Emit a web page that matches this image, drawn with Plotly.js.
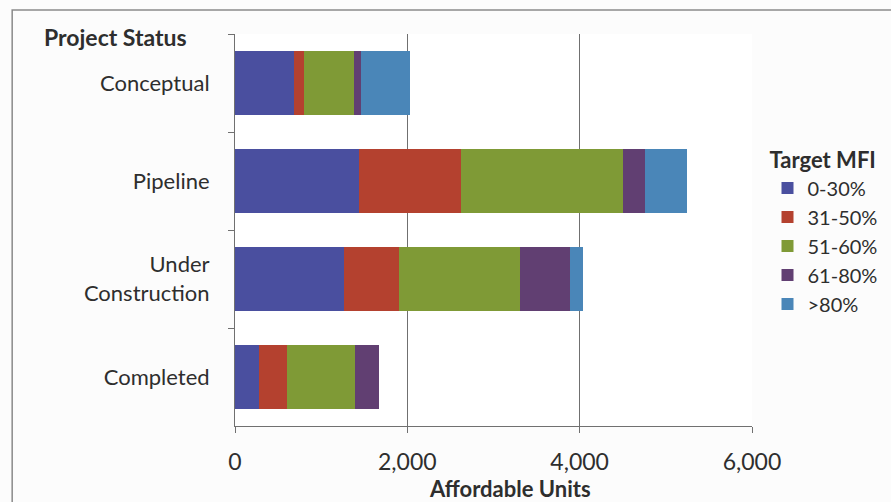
<!DOCTYPE html>
<html>
<head>
<meta charset="utf-8">
<script src="https://cdn.plot.ly/plotly-3.0.1.min.js"></script>
<style>
  html, body { margin: 0; padding: 0; background: #fcfcfc; }
  #chart { width: 891px; height: 502px; }
</style>
</head>
<body>
<div id="chart"></div>
<script>
// Project status categories (top to bottom)
const statuses = ["Conceptual", "Pipeline", "Under<br>Construction", "Completed"];

// Target MFI bands
const bands = ["0-30%", "31-50%", "51-60%", "61-80%", ">80%"];
const bandColors = ["#4a4f9f", "#b4412f", "#7f9a36", "#613f72", "#4a86b8"];

// Affordable units per status for each band
const units0to30  = [690, 1436, 1270, 284];
const units31to50 = [116, 1192, 638, 314];
const units51to60 = [572, 1871, 1404, 792];
const units61to80 = [86, 263, 580, 283];
const unitsOver80 = [572, 484, 147, 0];

const seriesValues = [units0to30, units31to50, units51to60, units61to80, unitsOver80];

const xTicks = [0, 2000, 4000, 6000];
const xTickText = ["0", "2,000", "4,000", "6,000"];

const font = "Lato, 'Open Sans', sans-serif";
const textColor = "#2e2e2e";
const lineColor = "#707070";

const traces = bands.map((band, i) => ({
  type: "bar",
  orientation: "h",
  name: band,
  y: statuses,
  x: seriesValues[i],
  marker: { color: bandColors[i], line: { width: 0 } },
  hoverinfo: "x+name"
}));

const layout = {
  width: 891,
  height: 502,
  margin: { l: 235, r: 139, t: 34, b: 76, autoexpand: false },
  paper_bgcolor: "#fcfcfc",
  plot_bgcolor: "#ffffff",
  barmode: "stack",
  bargap: 0.34,
  font: { family: font, size: 22, color: textColor },
  showlegend: true,
  legend: {
    x: 1.03, xanchor: "left",
    y: 0.73, yanchor: "top",
    traceorder: "normal",
    bgcolor: "rgba(0,0,0,0)",
    font: { family: font, size: 20, color: textColor },
    title: { text: "<b>Target MFI</b>", font: { family: font, size: 22, color: textColor } }
  },
  xaxis: {
    range: [0, 6000],
    tickvals: xTicks,
    ticktext: xTickText,
    showgrid: true,
    gridcolor: lineColor,
    gridwidth: 1,
    zeroline: false,
    showline: true,
    linecolor: lineColor,
    linewidth: 1,
    ticks: "outside",
    ticklen: 6,
    tickcolor: lineColor,
    ticklabelstandoff: 9,
    tickfont: { family: font, size: 23, color: textColor },
    fixedrange: true
  },
  yaxis: {
    type: "category",
    categoryorder: "array",
    categoryarray: statuses,
    autorange: "reversed",
    showgrid: false,
    zeroline: false,
    showline: true,
    linecolor: lineColor,
    linewidth: 1,
    ticks: "outside",
    tickson: "boundaries",
    ticklen: 6,
    tickcolor: lineColor,
    ticklabelstandoff: 20,
    tickfont: { family: font, size: 22, color: textColor },
    fixedrange: true
  },
  annotations: [{
    text: "<b>Project Status</b>",
    xref: "paper", yref: "paper",
    x: -0.373, y: 0.993,
    xanchor: "left", yanchor: "middle",
    showarrow: false,
    font: { family: font, size: 23, color: textColor }
  }, {
    // x-axis title
    text: "<b>Affordable Units</b>",
    xref: "paper", yref: "paper",
    x: 0.532, y: -0.16,
    xanchor: "center", yanchor: "middle",
    showarrow: false,
    font: { family: font, size: 22, color: textColor }
  }],
  shapes: [{
    type: "rect",
    xref: "paper", yref: "paper",
    x0: -0.431, x1: 1.3,
    y0: -0.25, y1: 1.061,
    line: { color: "#8a8a8a", width: 1.5 },
    fillcolor: "rgba(0,0,0,0)",
    layer: "below"
  }]
};

Plotly.newPlot("chart", traces, layout, { displayModeBar: false, staticPlot: true });
</script>
</body>
</html>
